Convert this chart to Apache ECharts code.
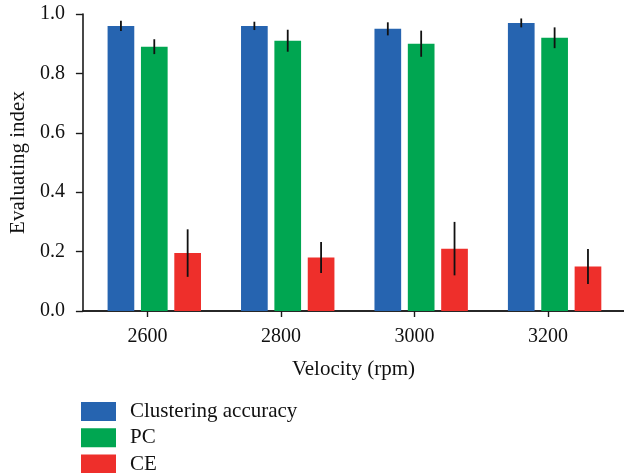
<!DOCTYPE html>
<html>
<head>
<meta charset="utf-8">
<style>
  html, body { margin: 0; padding: 0; background: #ffffff; }
  #chart { width: 624px; height: 473px; }
</style>
<script src="https://cdn.jsdelivr.net/npm/echarts@6/dist/echarts.min.js"></script>
</head>
<body>
<div id="chart"></div>
<script>
// Rotor speeds (rpm) and the evaluation results measured at each one
const velocities = [2600, 2800, 3000, 3200];
const velocityTicks = [2600, 2800, 3000, 3200];

const seriesNames = ['Clustering accuracy', 'PC', 'CE'];
const accuracyValues = [0.96, 0.96, 0.95, 0.97];
const accuracyErrors = [0.017, 0.014, 0.022, 0.015];
const pcValues = [0.89, 0.91, 0.90, 0.92];
const pcErrors = [0.025, 0.037, 0.044, 0.035];
const ceValues = [0.195, 0.18, 0.21, 0.15];
const ceErrors = [0.08, 0.052, 0.09, 0.059];

const FONT = 'Liberation Serif';
const colors = ['#2664b0', '#00a651', '#ee2f2b'];
// bar placement around each velocity, in rpm
const barOffsets = [-40, 10, 60];
const barWidthRpm = 40;

function barSeries(name, values, errors, idx) {
  return {
    name: name,
    type: 'custom',
    xAxisIndex: 0,
    yAxisIndex: 0,
    itemStyle: { color: colors[idx] },
    data: velocities.map((v, i) => [v, values[i], errors[i]]),
    encode: { x: 0, y: 1 },
    renderItem: function (params, api) {
      const x = api.value(0) + barOffsets[idx];
      const val = api.value(1);
      const err = api.value(2);
      const base = api.coord([x, 0]);
      const top = api.coord([x, val]);
      const w = api.size([barWidthRpm, 0])[0];
      const lo = api.coord([x, val - err]);
      const hi = api.coord([x, val + err]);
      return {
        type: 'group',
        children: [
          {
            type: 'rect',
            shape: { x: base[0] - w / 2, y: top[1], width: w, height: base[1] - top[1] },
            style: { fill: colors[idx] }
          },
          {
            type: 'line',
            shape: { x1: base[0], y1: lo[1], x2: base[0], y2: hi[1] },
            style: { stroke: '#111111', lineWidth: 1.8 }
          }
        ]
      };
    }
  };
}

const chart = echarts.init(document.getElementById('chart'), null, { renderer: 'canvas' });

chart.setOption({
  animation: false,
  backgroundColor: '#ffffff',
  grid: { left: 81.7, right: 0, top: 14, bottom: 162, containLabel: false },
  legend: {
    orient: 'vertical',
    left: 81,
    top: 401,
    height: 120,
    padding: 0,
    itemWidth: 35,
    itemHeight: 19,
    itemGap: 5.3,
    selectedMode: false,
    textStyle: { fontFamily: FONT, fontSize: 21, lineHeight: 19, color: '#111111', padding: [0, 0, 0, 9] },
    data: seriesNames.map((n, i) => ({ name: n, icon: 'rect', itemStyle: { color: colors[i] } }))
  },
  xAxis: [
    {
      type: 'value',
      min: 2503,
      max: 3314,
      splitLine: { show: false },
      axisLine: { show: true, onZero: false, lineStyle: { color: '#1a1a1a', width: 1.6 } },
      axisTick: { show: true, length: 6, customValues: velocityTicks, lineStyle: { color: '#1a1a1a', width: 1.4 } },
      axisLabel: {
        customValues: velocityTicks,
        margin: 16,
        fontFamily: FONT,
        fontSize: 20,
        color: '#111111',
        formatter: v => String(v)
      },
      name: 'Velocity (rpm)',
      nameLocation: 'middle',
      nameGap: 48,
      nameTextStyle: { fontFamily: FONT, fontSize: 21, color: '#111111' }
    },
    {
      type: 'value',
      position: 'top',
      min: 2503,
      max: 3314,
      splitLine: { show: false },
      axisLine: { show: true, lineStyle: { color: '#1a1a1a', width: 1.6 } },
      axisTick: { show: false },
      axisLabel: { show: false }
    }
  ],
  yAxis: {
    type: 'value',
    min: 0,
    max: 1,
    interval: 0.2,
    splitLine: { show: false },
    axisLine: { show: true, lineStyle: { color: '#1a1a1a', width: 1.6 } },
    axisTick: { show: true, length: 7, lineStyle: { color: '#1a1a1a', width: 1.4 } },
    axisLabel: {
      margin: 18,
      fontFamily: FONT,
      fontSize: 20,
      color: '#111111',
      formatter: v => v.toFixed(1)
    },
    name: 'Evaluating index',
    nameLocation: 'middle',
    nameGap: 53,
    nameTextStyle: { fontFamily: FONT, fontSize: 21, color: '#111111' }
  },
  series: [
    barSeries(seriesNames[0], accuracyValues, accuracyErrors, 0),
    barSeries(seriesNames[1], pcValues, pcErrors, 1),
    barSeries(seriesNames[2], ceValues, ceErrors, 2)
  ]
});
</script>
</body>
</html>
